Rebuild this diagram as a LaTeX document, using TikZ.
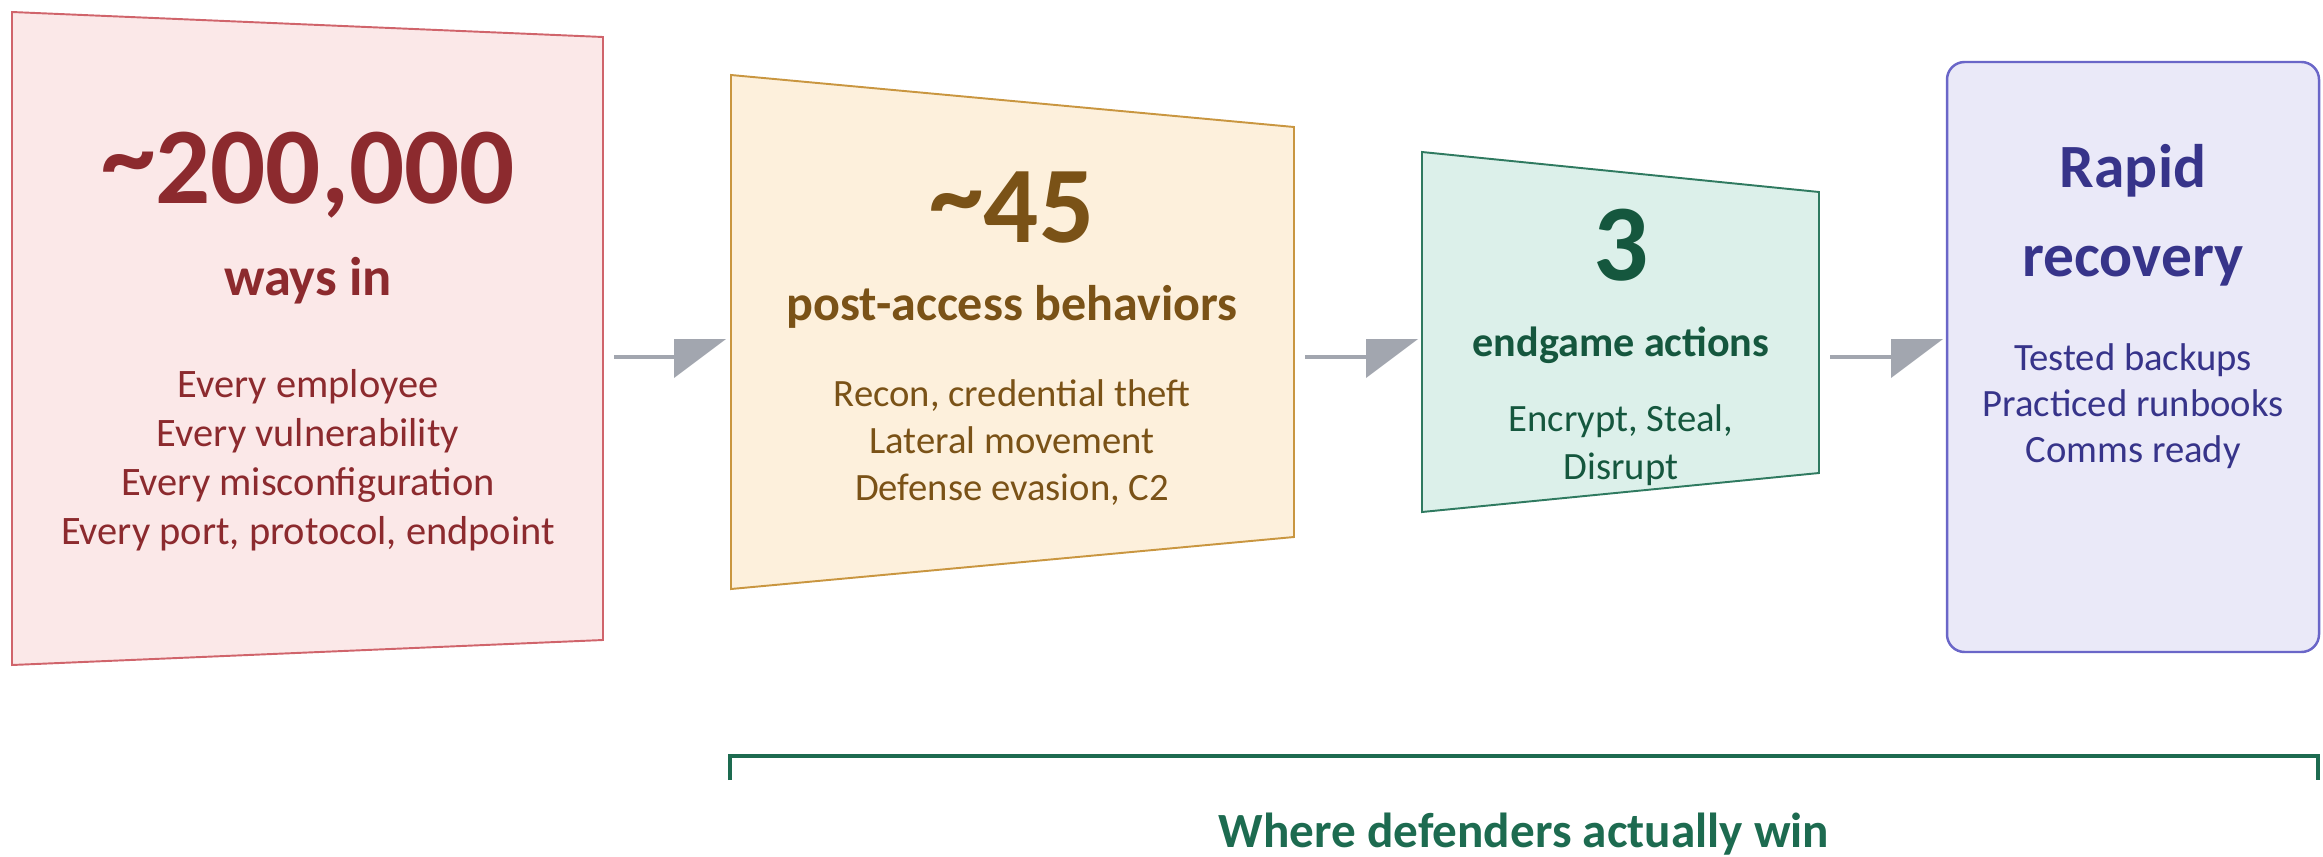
\documentclass[tikz,border=0pt]{standalone}
\usepackage{fontspec}
\setmainfont{Carlito}
\usepackage{tikz}

\definecolor{waysfill}{HTML}{FBE8E8}
\definecolor{waysline}{HTML}{D0646B}
\definecolor{waystext}{HTML}{8C2A2E}
\definecolor{postfill}{HTML}{FDF0DC}
\definecolor{postline}{HTML}{C99640}
\definecolor{posttext}{HTML}{7A5217}
\definecolor{endfill}{HTML}{DCF0EA}
\definecolor{endline}{HTML}{2F7A60}
\definecolor{endtext}{HTML}{15573E}
\definecolor{recfill}{HTML}{EAE9F8}
\definecolor{recline}{HTML}{6A66C8}
\definecolor{rectext}{HTML}{37348A}
\definecolor{arrowgray}{HTML}{A2A6AF}
\definecolor{wingreen}{HTML}{1D6B50}

\newcommand{\hitilde}{\raisebox{0.1em}{\textasciitilde}}

\tikzset{
	waysbox/.style={draw=waysline, fill=waysfill, line width=1.1pt},
	postbox/.style={draw=postline, fill=postfill, line width=1.1pt},
	endbox/.style={draw=endline, fill=endfill, line width=1.1pt},
	recbox/.style={draw=recline, fill=recfill, line width=1.4pt, rounded corners=10pt},
	bignum/.style={anchor=base, inner sep=0pt, font=\fontsize{62}{62}\selectfont\bfseries},
	headline/.style={anchor=base, inner sep=0pt, font=\fontsize{#1}{#1}\selectfont\bfseries},
	bodyline/.style={anchor=base, inner sep=0pt, font=\fontsize{#1}{#1}\selectfont},
	flowline/.style={draw=arrowgray, line width=2.3pt},
	halfhead/.pic={\fill[arrowgray] (0,-18) -- (52,-18) -- (0,21) -- cycle;},
	bracket/.style={draw=wingreen, line width=2.6pt}
}

\begin{document}
\begin{tikzpicture}[x=0.02cm, y=-0.02cm]
		\useasboundingbox (0,0) rectangle (2323,856);
		% ways in
		\coordinate (b1a) at (12,12);
		\coordinate (b1b) at (603,37);
		\coordinate (b1c) at (603,640);
		\coordinate (b1d) at (12,665);
		\draw[waysbox] (b1a) -- (b1b) -- (b1c) -- (b1d) -- cycle;
		\node[bignum, waystext] (n1) at (308,203) {\hitilde200,000};
		\node[headline=31, waystext] (h1) at (308,295) {ways in};
		\foreach \t [count=\i from 0] in {Every employee, Every vulnerability, Every misconfiguration, {Every port, protocol, endpoint}}
			\node[bodyline=23, waystext] (w\i) at (308,397+49*\i) {\t};
		% post-access
		\coordinate (b2a) at (731,75);
		\coordinate (b2b) at (1294,127);
		\coordinate (b2c) at (1294,537);
		\coordinate (b2d) at (731,589);
		\draw[postbox] (b2a) -- (b2b) -- (b2c) -- (b2d) -- cycle;
		\node[bignum, posttext] (n2) at (1012,242) {\hitilde45};
		\node[headline=28.5, posttext] (h2) at (1012,320) {post-access behaviors};
		\foreach \t [count=\i from 0] in {{Recon, credential theft}, Lateral movement, {Defense evasion, C2}}
			\node[bodyline=22, posttext] (p\i) at (1012,406+47*\i) {\t};
		% endgame
		\coordinate (b3a) at (1422,152);
		\coordinate (b3b) at (1819,192);
		\coordinate (b3c) at (1819,473);
		\coordinate (b3d) at (1422,512);
		\draw[endbox] (b3a) -- (b3b) -- (b3c) -- (b3d) -- cycle;
		\node[bignum, endtext] (n3) at (1621,280) {3};
		\node[headline=24, endtext] (h3) at (1621,356) {endgame actions};
		\node[bodyline=22, endtext] (e0) at (1621,431) {Encrypt, Steal,};
		\node[bodyline=22, endtext] (e1) at (1621,479) {Disrupt};
		% recovery
		\draw[recbox] (1947,62) rectangle (2319,652);
		\node[headline=35, rectext] (h4a) at (2133,187) {Rapid};
		\node[headline=35, rectext] (h4b) at (2133,276) {recovery};
		\foreach \t [count=\i from 0] in {Tested backups, Practiced runbooks, Comms ready}
			\node[bodyline=22, rectext] (r\i) at (2133,370+46*\i) {\t};
		% arrows
		\coordinate (a1s) at (614,357);
		\coordinate (a1e) at (674,357);
		\coordinate (a2s) at (1305,357);
		\coordinate (a2e) at (1366,357);
		\coordinate (a3s) at (1830,357);
		\coordinate (a3e) at (1891,357);
		\draw[flowline] (a1s) -- (a1e) pic {halfhead};
		\draw[flowline] (a2s) -- (a2e) pic {halfhead};
		\draw[flowline] (a3s) -- (a3e) pic {halfhead};
		% bracket
		\coordinate (brl) at (730,780);
		\coordinate (brr) at (2318,780);
		\draw[bracket] (brl) -- ++(0,-24) -| (brr);
		\node[headline=28, wingreen] (win) at (1524,847) {Where defenders actually win};
\end{tikzpicture}
\end{document}
